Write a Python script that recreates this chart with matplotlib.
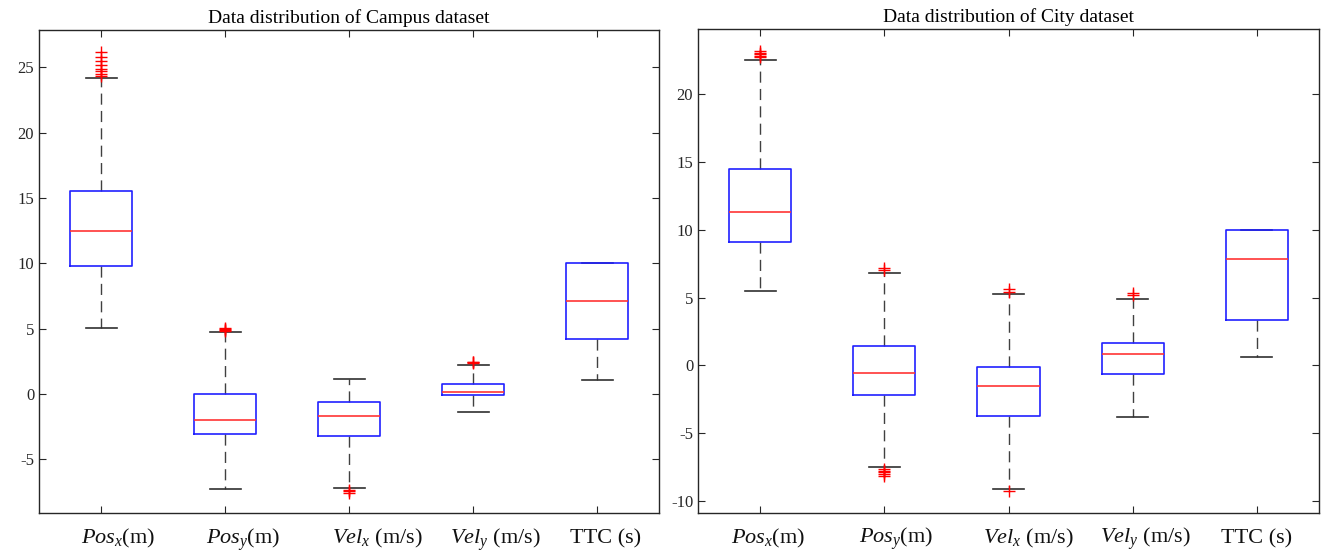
import numpy as np
import matplotlib
matplotlib.use("Agg")
import matplotlib.pyplot as plt
import matplotlib.transforms as mtransforms

plt.rcParams['font.family'] = ['Liberation Serif', 'DejaVu Serif']
plt.rcParams['mathtext.fontset'] = 'custom'
plt.rcParams['mathtext.rm'] = 'Liberation Serif'
plt.rcParams['mathtext.it'] = 'Liberation Serif:italic'
plt.rcParams['axes.unicode_minus'] = False

labels = [r'$\mathit{Pos}_x$(m)', r'$\mathit{Pos}_y$(m)', r'$\mathit{Vel}_x$ (m/s)',
          r'$\mathit{Vel}_y$ (m/s)', 'TTC (s)']

# Campus dataset
campus_med = [12.5, -2.02, -1.71, 0.15, 7.14]
campus_q1 = [9.79, -3.06, -3.21, -0.10, 4.21]
campus_q3 = [15.53, 0.03, -0.61, 0.79, 10.0]
campus_lo = [5.03, -7.27, -7.17, -1.40, 1.10]
campus_hi = [24.15, 4.72, 1.15, 2.19, 10.0]
campus_fliers = [
    [24.3, 24.5, 24.7, 24.9, 25.2, 25.5, 25.8, 26.2],
    [4.82, 4.9, 4.97, 5.05],
    [-7.35, -7.45, -7.55],
    [2.35, 2.42, 2.48],
    [],
]

# City dataset
city_med = [11.31, -0.55, -1.51, 0.85, 7.83]
city_q1 = [9.06, -2.17, -3.69, -0.65, 3.32]
city_q3 = [14.43, 1.43, -0.10, 1.65, 10.0]
city_lo = [5.48, -7.44, -9.08, -3.79, 0.62]
city_hi = [22.5, 6.82, 5.28, 4.91, 10.0]
city_fliers = [
    [22.7, 22.8, 22.9, 23.0, 23.1],
    [7.0, 7.15, -7.65, -7.75, -7.85, -7.95, -8.1],
    [5.4, 5.65, -9.2],
    [5.2, 5.3],
    [],
]

# label placement (the labels sit a bit right of the ticks in the original)
campus_label_shift = [0.137, 0.145, 0.226, 0.177, 0.073]
city_label_shift = [0.064, 0.097, 0.161, 0.105, 0.0]


def make_stats(med, q1, q3, lo, hi, fliers):
    stats = []
    for i in range(len(med)):
        stats.append(dict(med=med[i], q1=q1[i], q3=q3[i], whislo=lo[i], whishi=hi[i],
                          fliers=fliers[i]))
    return stats


def draw(ax, stats, title, ylim, yticks, shifts, label_y):
    pos = np.arange(1, 6)
    parts = ax.bxp(stats, positions=pos, widths=0.5, capwidths=0.25,
                   boxprops=dict(color='#2020ff', linewidth=1.2),
                   medianprops=dict(color='#ff3535', linewidth=1.2),
                   whiskerprops=dict(color='#404040', linewidth=1.0, linestyle=(0, (8, 4.5))),
                   capprops=dict(color='#303030', linewidth=1.2),
                   flierprops=dict(marker='+', markeredgecolor='red', markersize=9,
                                   markeredgewidth=1.0))
    for b in parts['boxes']:
        b.set_zorder(3)
    for m in parts['medians']:
        m.set_zorder(4)
    ax.set_xlim(0.5, 5.5)
    ax.set_ylim(*ylim)
    ax.set_yticks(yticks)
    ax.set_xticks(pos)
    ax.set_xticklabels([])
    trans = mtransforms.blended_transform_factory(ax.transData, ax.transAxes)
    for p, s, lab in zip(pos, shifts, labels):
        ax.text(p + s, label_y, lab, transform=trans, ha='center', va='baseline',
                fontsize=16, color='#111111')
    ax.tick_params(axis='y', labelsize=12, labelcolor='#262626')
    ax.tick_params(direction='in', length=5, top=True, right=True, color='#262626')
    for s in ax.spines.values():
        s.set_color('#262626')
        s.set_linewidth(1.0)
    ax.set_title(title, fontsize=14, pad=5)


fig = plt.figure(figsize=(13.37, 5.58), dpi=100)
ax1 = fig.add_axes([39 / 1337, 45 / 558, 620 / 1337, 483 / 558])
ax2 = fig.add_axes([698 / 1337, 45 / 558, 621 / 1337, 484 / 558])

draw(ax1, make_stats(campus_med, campus_q1, campus_q3, campus_lo, campus_hi, campus_fliers),
     'Data distribution of Campus dataset', (-9.1, 27.85), [-5, 0, 5, 10, 15, 20, 25],
     campus_label_shift, -0.064)
draw(ax2, make_stats(city_med, city_q1, city_q3, city_lo, city_hi, city_fliers),
     'Data distribution of City dataset', (-10.85, 24.75), [-10, -5, 0, 5, 10, 15, 20],
     city_label_shift, -0.062)

fig.savefig('out.png', dpi=100)
